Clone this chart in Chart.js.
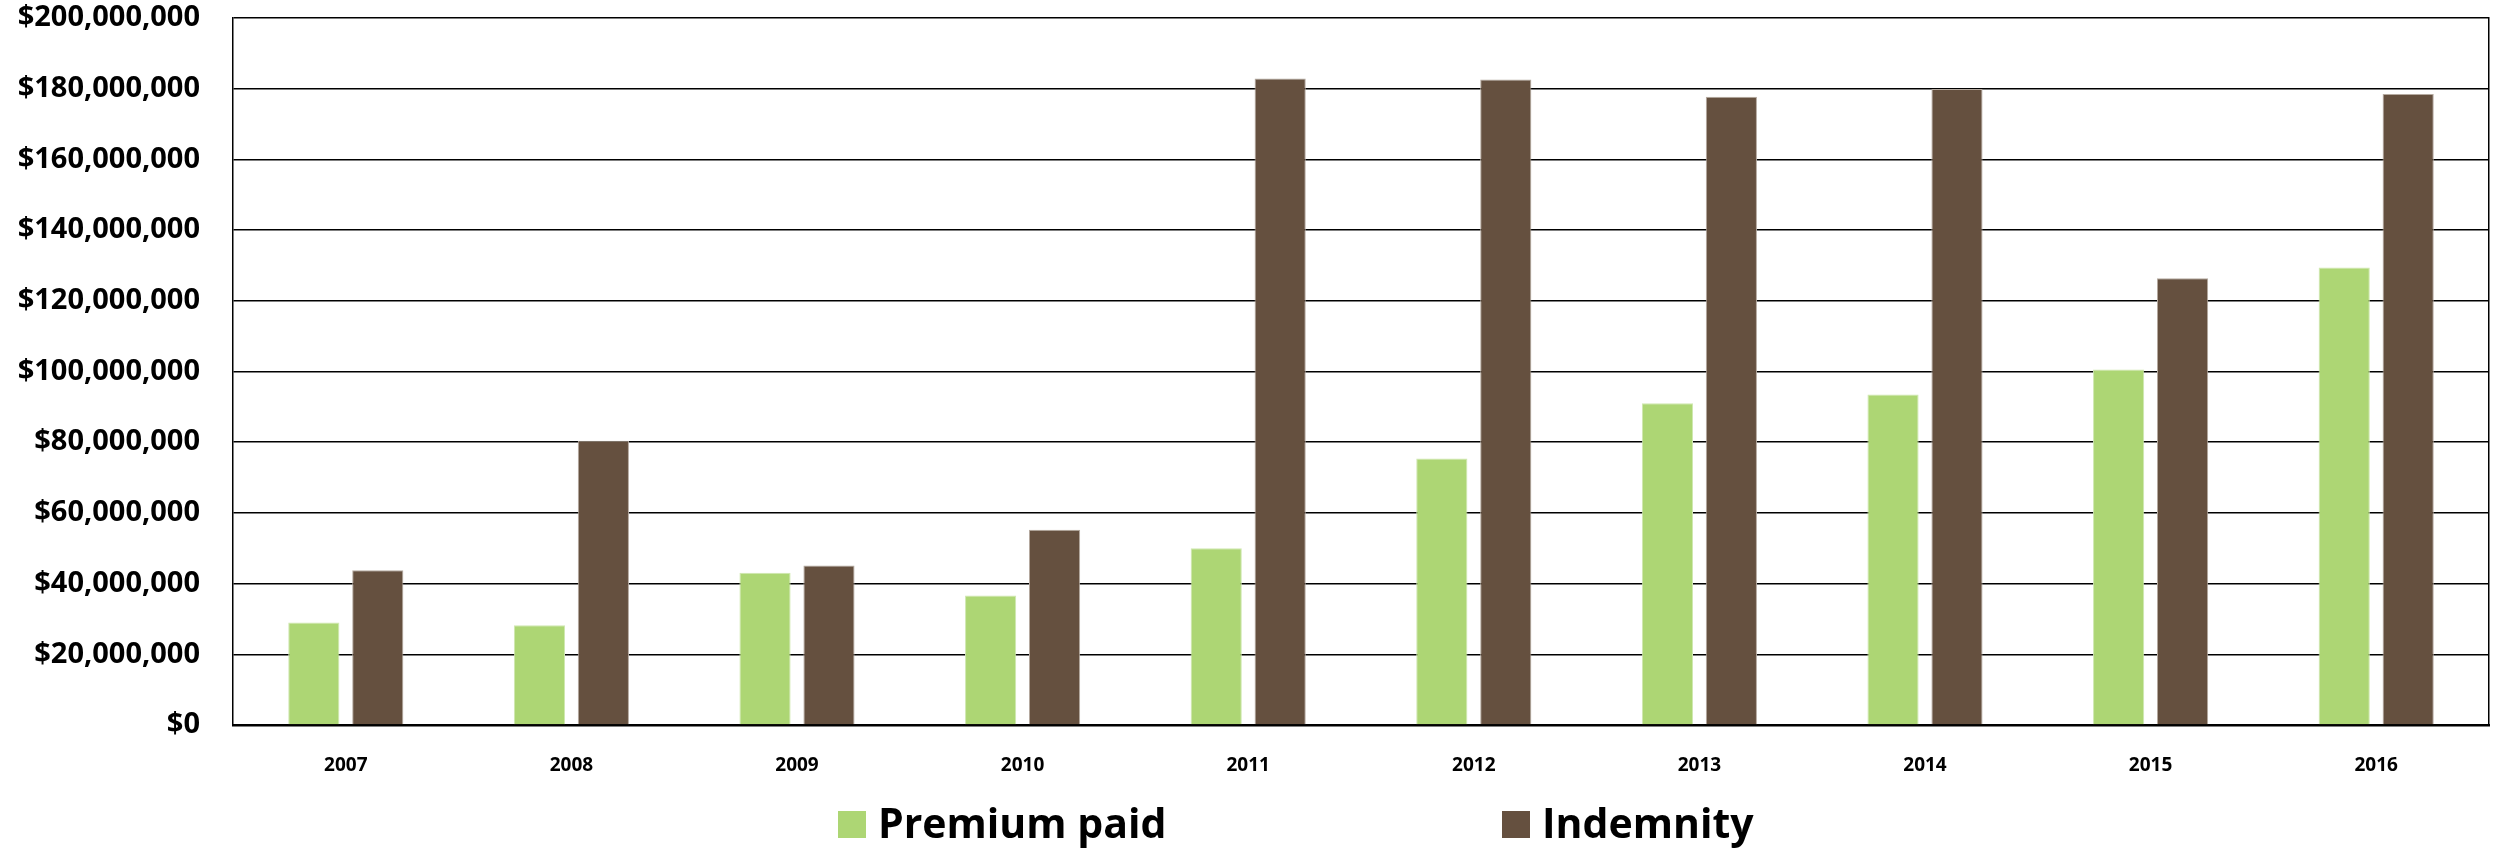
<!DOCTYPE html>
<html>
<head>
<meta charset="utf-8">
<script src="https://cdn.jsdelivr.net/npm/chart.js@4/dist/chart.umd.min.js"></script>
<style>
  html, body { margin: 0; padding: 0; background: #fff; }
  canvas { display: block; }
</style>
</head>
<body>
<canvas id="grafico" width="2503" height="848"></canvas>
<script>
// Anos e valores (em dólares)
const ANOS = ['2007', '2008', '2009', '2010', '2011', '2012', '2013', '2014', '2015', '2016'];
const PREMIO = [29.0e6, 28.2e6, 43.1e6, 36.6e6, 50.0e6, 75.4e6, 91.0e6, 93.5e6, 100.6e6, 129.4e6];
const INDENIZACAO = [43.8e6, 80.4e6, 45.1e6, 55.2e6, 182.9e6, 182.6e6, 177.7e6, 179.9e6, 126.4e6, 178.5e6];
const ROTULOS = ['Premium paid', 'Indemnity'];

const VERDE = '#add674';
const MARROM = '#65503f';
const FONTE = '"Open Sans", "DejaVu Sans", sans-serif';

// legenda desenhada à mão, porque o espaçamento do Chart.js não bate com o original
const legendaManual = {
    id: 'legendaManual',
    afterDraw(chart) {
        const ctx = chart.ctx;
        const posX = [838, 1502];
        const topo = 811;
        ctx.save();
        ctx.font = 'bold 41px ' + FONTE;
        ctx.textBaseline = 'middle';
        chart.data.datasets.forEach((ds, i) => {
            ctx.fillStyle = ds.backgroundColor;
            ctx.fillRect(posX[i], topo, 28, 27);
            ctx.fillStyle = '#000';
            ctx.fillText(ds.label, posX[i] + 40, topo + 15);
        });
        ctx.restore();
    }
};

// tira o espaço extra que o eixo y reserva acima/abaixo dos rótulos
function semFolga(escala, largura) {
    escala.width = largura;
    escala.paddingTop = 0;
    escala.paddingBottom = 0;
}

new Chart(document.getElementById('grafico'), {
    type: 'bar',
    data: {
        labels: ANOS,
        datasets: [
            { label: ROTULOS[0], data: PREMIO, backgroundColor: VERDE, borderColor: '#cfe8b0', borderWidth: 1 },
            { label: ROTULOS[1], data: INDENIZACAO, backgroundColor: MARROM, borderColor: '#b5aaa0', borderWidth: 1 }
        ]
    },
    options: {
        responsive: false,
        animation: false,
        devicePixelRatio: 1,
        categoryPercentage: 0.567,
        barPercentage: 0.8,
        layout: { padding: { top: 18, right: 14, left: 0, bottom: 0 } },
        plugins: {
            legend: { display: false },
            tooltip: { enabled: false }
        },
        scales: {
            x: {
                grid: { display: false },
                border: { display: true, color: '#000', width: 2.5 },
                ticks: {
                    color: '#000',
                    padding: 21,
                    font: { family: FONTE, size: 19, weight: 'bold' }
                },
                afterFit: (escala) => { escala.height = 123; }
            },
            y: {
                min: 0,
                max: 200000000,
                ticks: {
                    stepSize: 20000000,
                    color: '#000',
                    padding: 33,
                    font: { family: FONTE, size: 29, weight: 'bold' },
                    callback: (v) => '$' + Number(v).toLocaleString('en-US')
                },
                grid: { color: '#000', lineWidth: 1.5, drawTicks: false },
                border: { display: true, color: '#000', width: 1.5 },
                afterFit: (escala) => semFolga(escala, 233)
            },
            y2: {
                position: 'right',
                min: 0,
                max: 200000000,
                grid: { display: false, drawTicks: false },
                ticks: { display: false },
                border: { display: true, color: '#000', width: 1.5 },
                afterFit: (escala) => semFolga(escala, 0)
            }
        }
    },
    plugins: [legendaManual]
});
</script>
</body>
</html>
